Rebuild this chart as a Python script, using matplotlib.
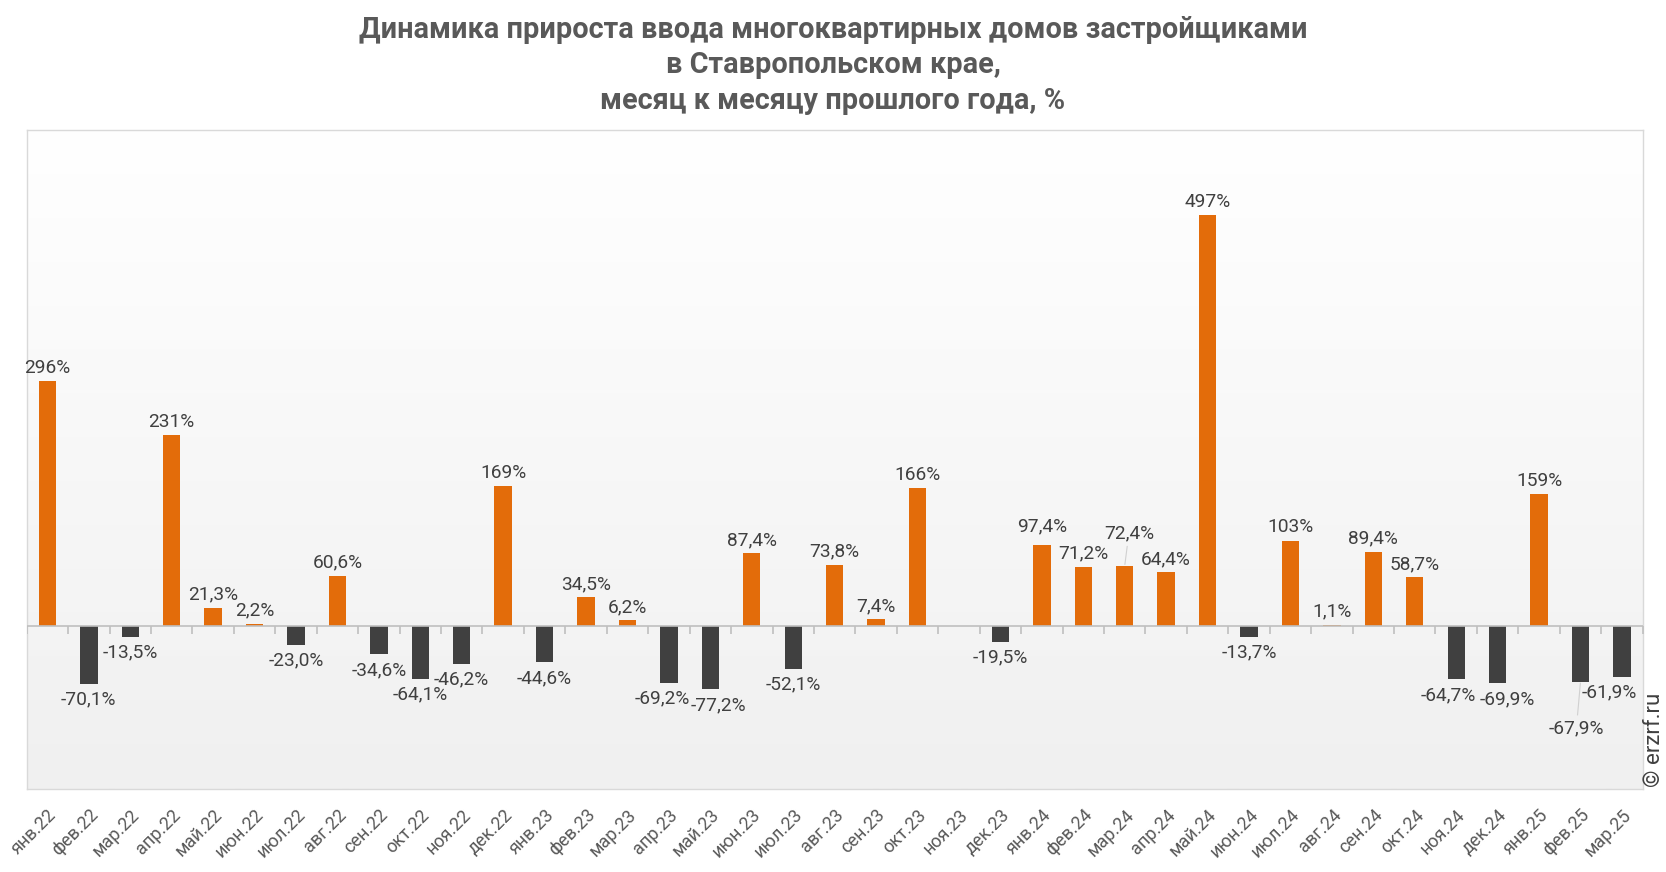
import numpy as np
import matplotlib
matplotlib.use("Agg")
import matplotlib.pyplot as plt

plt.rcParams['font.family'] = ['Roboto', 'DejaVu Sans']

months = ["янв.22", "фев.22", "мар.22", "апр.22", "май.22", "июн.22", "июл.22", "авг.22",
          "сен.22", "окт.22", "ноя.22", "дек.22",
          "янв.23", "фев.23", "мар.23", "апр.23", "май.23", "июн.23", "июл.23", "авг.23",
          "сен.23", "окт.23", "ноя.23", "дек.23",
          "янв.24", "фев.24", "мар.24", "апр.24", "май.24", "июн.24", "июл.24", "авг.24",
          "сен.24", "окт.24", "ноя.24", "дек.24",
          "янв.25", "фев.25", "мар.25"]

growth = [296, -70.1, -13.5, 231, 21.3, 2.2, -23.0, 60.6, -34.6, -64.1, -46.2, 169,
          -44.6, 34.5, 6.2, -69.2, -77.2, 87.4, -52.1, 73.8, 7.4, 166, None, -19.5,
          97.4, 71.2, 72.4, 64.4, 497, -13.7, 103, 1.1, 89.4, 58.7, -64.7, -69.9,
          159, -67.9, -61.9]

title = ("Динамика прироста ввода многоквартирных домов застройщиками\n"
         "в Ставропольском крае,\n"
         "месяц к месяцу прошлого года, %")

ORANGE = "#E36C0A"
DARK = "#404040"
TEXT = "#404040"

# label nudges in points for crowded spots
nudge = {15: (-5, 0), 16: (6, 0), 24: (0, 4), 26: (3, 14), 34: (-6, 0), 35: (7, 0),
         37: (-3, -22), 38: (-9, 0)}
leader = {26, 37}


def fmt(v):
    if abs(v) >= 100:
        s = f"{v:.0f}%"
    else:
        s = f"{v:.1f}%"
    return s.replace(".", ",")


fig = plt.figure(figsize=(16.66, 8.72), dpi=100)
ax = fig.add_axes([0.016, 0.095, 0.970, 0.756])

x = np.arange(len(months))
vals = np.array([np.nan if v is None else v for v in growth], dtype=float)
colors = [ORANGE if (not np.isnan(v) and v >= 0) else DARK for v in vals]

ax.set_xlim(-0.5, len(months) - 0.5)
ax.set_ylim(-198, 600)

# gradient background
grad = np.linspace(0, 1, 256).reshape(-1, 1)
ax.imshow(grad, extent=[0, 1, 0, 1], transform=ax.transAxes, aspect="auto",
          cmap=matplotlib.colors.LinearSegmentedColormap.from_list("bg", ["#f0f0f0", "#ffffff"]),
          origin="lower", zorder=0)

ax.bar(x, np.nan_to_num(vals), width=0.42, color=colors, zorder=2)

ax.axhline(0, color="#bfbfbf", lw=1.2, zorder=3)
ax.plot(np.arange(len(months) + 1) - 0.5, np.zeros(len(months) + 1), ls="", marker=3,
        ms=6, mew=1.2, color="#bfbfbf", zorder=3)

for i, v in enumerate(vals):
    if np.isnan(v):
        continue
    dx, dy = nudge.get(i, (0, 0))
    arrow = None
    if i in leader:
        arrow = dict(arrowstyle="-", color="#d0d0d0", lw=0.8, shrinkA=1, shrinkB=1)
    if v >= 0:
        ax.annotate(fmt(v), (i, v), xytext=(dx, 3 + dy), textcoords="offset points",
                    ha="center", va="bottom", fontsize=13.8, color=TEXT, zorder=4,
                    arrowprops=arrow)
    else:
        ax.annotate(fmt(v), (i, v), xytext=(dx, -5 + dy), textcoords="offset points",
                    ha="center", va="top", fontsize=13.8, color=TEXT, zorder=4,
                    arrowprops=arrow)

ax.set_xticks(x)
ax.set_xticklabels(months, rotation=45, ha="right", rotation_mode="anchor",
                   fontsize=13, color="#595959")
ax.tick_params(axis="x", length=0, pad=12)
ax.set_yticks([])
for sp in ax.spines.values():
    sp.set_color("#d9d9d9")
    sp.set_linewidth(1)

fig.suptitle(title, y=0.982, fontsize=20.8, fontweight="bold", color="#595959",
             linespacing=1.35)

fig.text(0.993, 0.098, "© erzrf.ru", rotation=90, ha="center", va="bottom",
         fontsize=16, color=TEXT)

fig.savefig("out.png", dpi=100)
